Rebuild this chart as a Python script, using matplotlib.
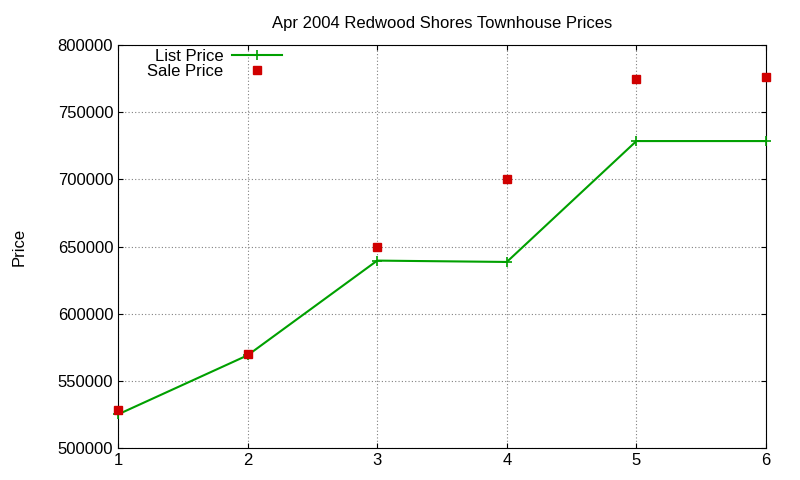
import matplotlib
matplotlib.use("Agg")
import matplotlib.pyplot as plt

plt.rcParams["font.family"] = ["Liberation Sans", "DejaVu Sans"]

x = [1, 2, 3, 4, 5, 6]
list_price = [525000, 569000, 639500, 638500, 728500, 728500]
sale_price = [528000, 570000, 650000, 700000, 775000, 776000]

fig = plt.figure(figsize=(8, 4.8), dpi=100)
ax = fig.add_axes([0.1475, 0.0667, 0.81, 0.8395])

ax.plot(x, list_price, color="#00a000", lw=1.5, marker="+", ms=7, mew=1.2,
        label="List Price", clip_on=False, zorder=3)
ax.plot(x, sale_price, ls="none", marker="s", color="#d00000", ms=6,
        label="Sale Price", clip_on=False, zorder=4)

ax.set_xlim(1, 6)
ax.set_ylim(500000, 800000)
ax.set_xticks(x)
ax.set_yticks(range(500000, 800001, 50000))
ax.tick_params(direction="in", labelsize=12, top=True, right=True)
ax.grid(True, color="#808080", ls=(0, (1, 2)), lw=0.8)
ax.set_title("Apr 2004 Redwood Shores Townhouse Prices", fontsize=12, pad=12)
ax.set_ylabel("Price", fontsize=12, labelpad=22)
ax.legend(loc="upper left", bbox_to_anchor=(0.03, 1.015), frameon=False,
          markerfirst=False, fontsize=12, handlelength=3.0, handletextpad=0.5,
          labelspacing=0.0, borderaxespad=0.2)

fig.savefig("out.png", dpi=100)
